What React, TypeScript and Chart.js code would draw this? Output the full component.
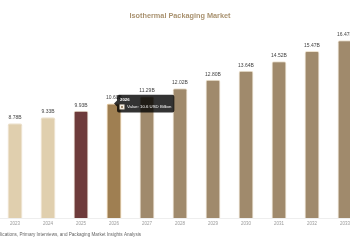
import React, { useEffect, useRef } from "react";
import { Chart, registerables } from "chart.js";

Chart.register(...registerables);

const years = ["2023", "2024", "2025", "2026", "2027", "2028", "2029", "2030", "2031", "2032", "2033"];
const values = [8.78, 9.33, 9.93, 10.6, 11.29, 12.02, 12.8, 13.64, 14.52, 15.47, 16.47];
const barColors = ["#e0cfae", "#e0cfae", "#6e3b3b", "#a08a6c", "#a08a6c", "#a08a6c", "#a08a6c", "#a08a6c", "#a08a6c", "#a08a6c", "#a08a6c"];
const titleText = "Isothermal Packaging Market";
const sourceText = "Source: Secondary Research, Journals, Company Publications, Primary Interviews, and Packaging Market Insights Analysis";
const activeIndex = 3;

const FONT = "'Liberation Sans', Arial, sans-serif";
const CANVAS_LEFT = -16;
const W = 380;
const H = 250;

const labelPlugin = {
  id: "barLabels",
  afterDatasetsDraw(chart: any) {
    const ctx = chart.ctx;
    const meta = chart.getDatasetMeta(0);
    ctx.save();
    ctx.font = `5px ${FONT}`;
    ctx.fillStyle = "#444";
    ctx.textAlign = "center";
    ctx.textBaseline = "bottom";
    meta.data.forEach((bar: any, i: number) => {
      ctx.fillText(values[i].toFixed(2) + "B", bar.x, bar.y - 3);
    });
    ctx.font = `4.6px ${FONT}`;
    ctx.fillStyle = "#666";
    ctx.textAlign = "right";
    ctx.textBaseline = "middle";
    ctx.fillText(sourceText, 141 - CANVAS_LEFT, 235);
    ctx.restore();
  },
};

export default function App() {
  const ref = useRef<HTMLCanvasElement>(null);
  useEffect(() => {
    if (!ref.current) return;
    const chart = new Chart(ref.current, {
      type: "bar",
      data: {
        labels: years,
        datasets: [
          {
            data: values,
            backgroundColor: barColors,
            borderColor: "#eee3d0",
            borderWidth: 1,
            borderRadius: 2,
            barPercentage: 0.9,
            categoryPercentage: 0.5,
          },
        ],
      },
      options: {
        responsive: false,
        animation: false,
        layout: { padding: { left: 14.5, right: 2.5, top: 0, bottom: 24 } },
        plugins: {
          legend: { display: false },
          title: {
            display: true,
            text: titleText,
            color: "#a99270",
            font: { family: FONT, size: 7.3, weight: "bold" },
            padding: { top: 11.5, bottom: 3.5 },
          },
          tooltip: {
            enabled: true,
            backgroundColor: "rgba(0,0,0,0.8)",
            titleFont: { family: FONT, size: 4.3, weight: "bold" },
            bodyFont: { family: FONT, size: 4.3 },
            titleColor: "#fff",
            bodyColor: "#fff",
            padding: 3,
            titleMarginBottom: 1.5,
            caretSize: 3,
            caretPadding: 0,
            cornerRadius: 2,
            boxWidth: 4,
            boxHeight: 4,
            boxPadding: 1,
            callbacks: {
              label: (c: any) => `Value: ${c.parsed.y} USD Billion`,
            },
          },
        },
        scales: {
          x: {
            grid: { display: false, drawTicks: false, tickLength: 0 },
            border: { display: true, color: "#eeeeee" },
            ticks: { color: "#999", font: { family: FONT, size: 4.5 }, padding: 3 },
            afterFit: (scale: any) => {
              scale.height = 8;
            },
          },
          y: {
            display: false,
            min: 0,
            max: 18,
          },
        },
      },
      plugins: [labelPlugin],
    });
    const meta = chart.getDatasetMeta(0);
    const el: any = meta.data[activeIndex];
    chart.setActiveElements([{ datasetIndex: 0, index: activeIndex }]);
    chart.tooltip!.setActiveElements([{ datasetIndex: 0, index: activeIndex }], { x: el.x, y: el.y });
    chart.update();
    return () => chart.destroy();
  }, []);
  return (
    <div style={{ position: "absolute", left: CANVAS_LEFT, top: 0, width: W, height: H }}>
      <canvas ref={ref} width={W} height={H} style={{ width: W, height: H, display: "block" }} />
    </div>
  );
}
